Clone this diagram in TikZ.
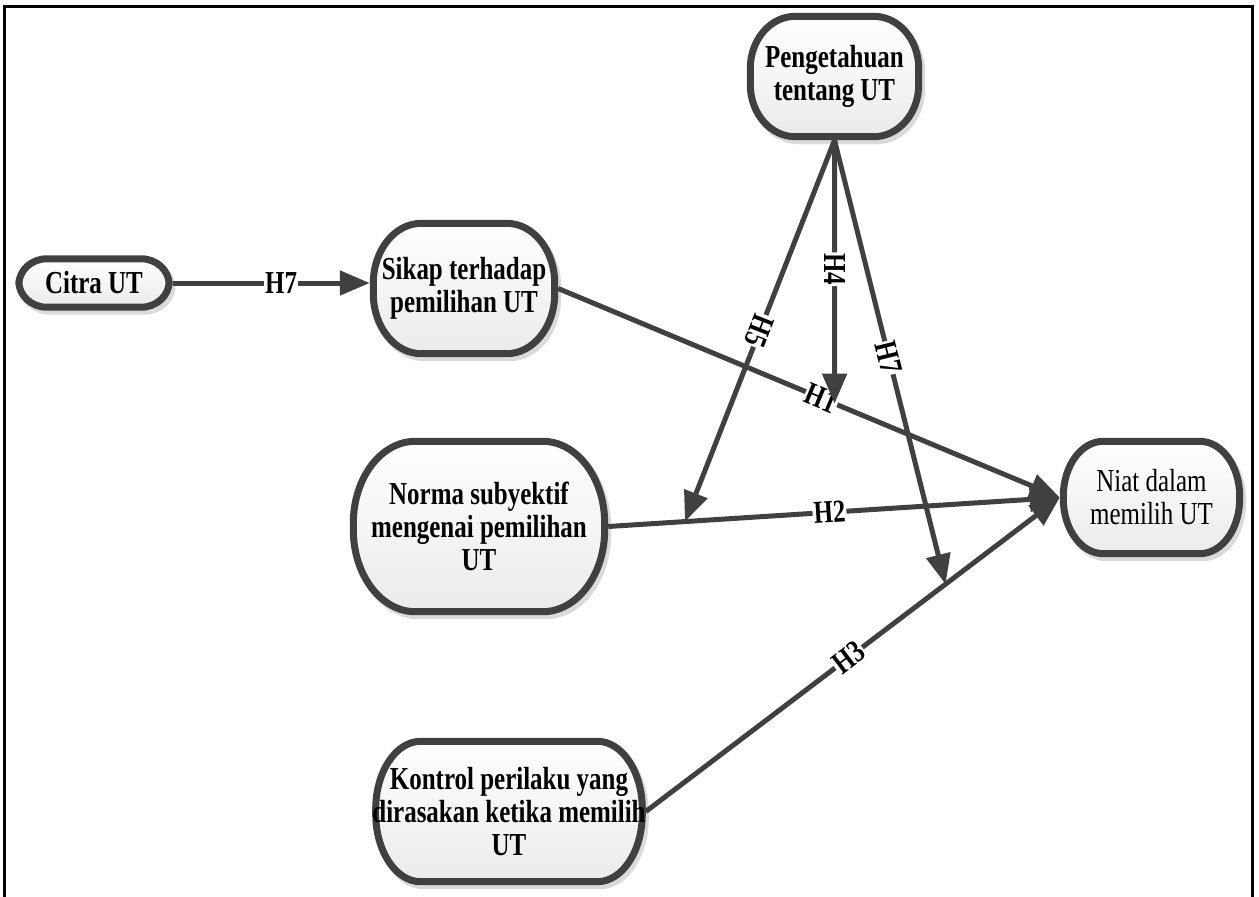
\documentclass[tikz,border=0pt]{standalone}
\usepackage{fontspec}
\setmainfont{Liberation Serif}[FakeStretch=0.78]
\usetikzlibrary{arrows.meta,calc}
\pgfdeclarelayer{background}
\pgfsetlayers{background,main}
\definecolor{ln}{HTML}{404040}
\definecolor{shd}{HTML}{DADADA}
\newcommand\rrpath[6]{(#1+#5,#2) -- (#3-#5,#2) arc[start angle=-90,end angle=0,x radius=#5,y radius=#6]
  -- (#3,#4-#6) arc[start angle=0,end angle=90,x radius=#5,y radius=#6]
  -- (#1+#5,#4) arc[start angle=90,end angle=180,x radius=#5,y radius=#6]
  -- (#1,#2+#6) arc[start angle=180,end angle=270,x radius=#5,y radius=#6] -- cycle}
\newcommand\ubox[3]{%
 \begin{pgfonlayer}{background}
  \path[draw=shd, line width=7pt, fill=shd] let \p1=(#1.south west), \p2=(#1.north east) in
    \rrpath{\x1+6.5pt}{\y1-0.5pt}{\x2-0.5pt}{\y2-7.5pt}{#2}{#3};
  \path[draw=ln, line width=7pt, top color=white, bottom color=black!8] let \p1=(#1.south west), \p2=(#1.north east) in
    \rrpath{\x1+3.5pt}{\y1+3.5pt}{\x2-3.5pt}{\y2-3.5pt}{#2}{#3};
 \end{pgfonlayer}}
\tikzset{
 x=1pt, y=-1pt,
 box/.style={draw=none, inner sep=0pt, align=center, font=\bfseries\fontsize{32}{33}\selectfont},
 conn/.style={draw=ln, line width=5pt, -{Triangle[length=30pt,width=24pt]}},
 lab/.style={fill=white, inner sep=1pt, font=\bfseries\fontsize{32}{33}\selectfont, text=black},
}
\begin{document}
\begin{tikzpicture}
\useasboundingbox (0,0) rectangle (1259,897);
\draw[line width=3pt, black] (4,897) -- (4,6) -- (1252,6) -- (1252,897);

\node[box, minimum width=175pt, minimum height=127pt] (peng) at (834.5,76.5) {Pengetahuan\\tentang UT};
\node[box, minimum width=157pt, minimum height=55pt] (citra) at (94,283) {Citra UT};
\node[box, minimum width=188pt, minimum height=137pt] (sikap) at (464,288.5) {Sikap terhadap\\pemilihan UT};
\node[box, minimum width=258pt, minimum height=177pt] (norma) at (479,526.5) {Norma subyektif\\mengenai pemilihan\\UT};
\node[box, minimum width=271pt, minimum height=147pt] (kontrol) at (509,811.5) {Kontrol perilaku yang\\dirasakan ketika memilih\\UT};
\node[box, font=\fontsize{32}{33}\selectfont, minimum width=183pt, minimum height=119pt] (niat) at (1151.5,497.5) {Niat dalam\\memilih UT};

\ubox{peng}{45pt}{52pt}
\ubox{citra}{28pt}{26pt}
\ubox{sikap}{48pt}{60pt}
\ubox{norma}{62pt}{82pt}
\ubox{kontrol}{45pt}{68pt}
\ubox{niat}{40pt}{55pt}

\coordinate (m1) at ($(sikap.east)!0.551!(niat.west)$);
\coordinate (m2) at ($(norma.east)!0.170!(niat.west)$);
\coordinate (m3) at ($(kontrol.east)!0.724!(niat.west)$);

\draw[conn] (citra.east) -- node[lab, pos=0.55]{H7} (citra.east -| sikap.west);
\draw[conn] (sikap.east) -- node[lab, sloped, pos=0.525]{H1} (niat.west);
\draw[conn] (norma.east) -- node[lab, sloped, pos=0.49]{H2} (niat.west);
\draw[conn] (kontrol.east) -- node[lab, sloped, pos=0.49]{H3} (niat.west);
\draw[conn] (peng.south) -- node[lab, sloped, allow upside down, pos=0.49]{H4} (m1);
\draw[conn] (peng.south) -- node[lab, sloped, allow upside down, pos=0.5]{H5} (m2);
\draw[conn] (peng.south) -- node[lab, sloped, allow upside down, pos=0.49]{H7} (m3);
\end{tikzpicture}
\end{document}
